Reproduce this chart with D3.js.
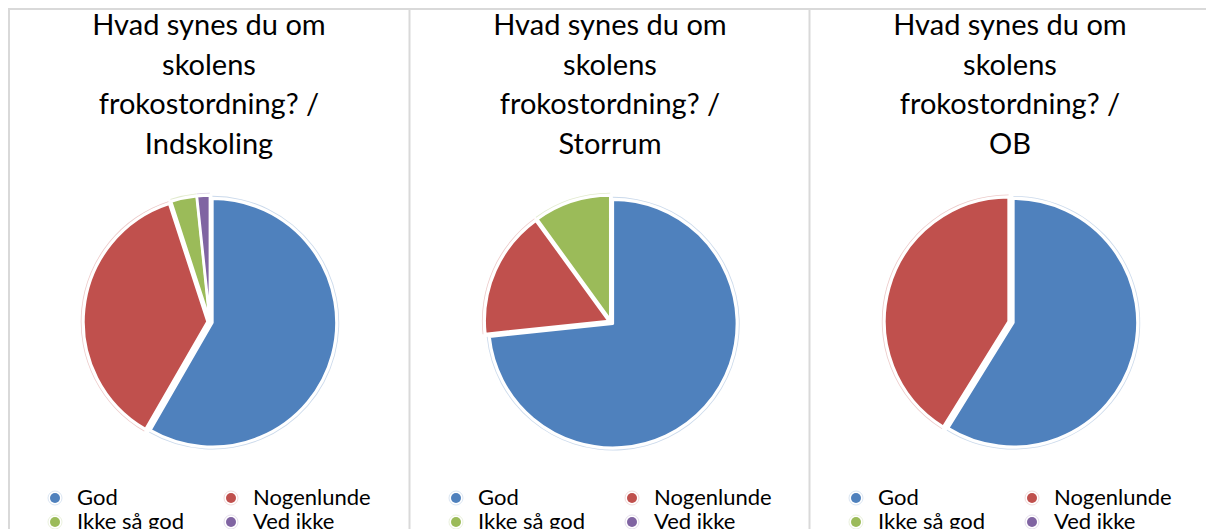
<!DOCTYPE html>
<html>
<head>
<meta charset="utf-8">
<script src="https://cdn.jsdelivr.net/npm/d3@7"></script>
<style>
  body { margin: 0; background: #fff; }
  svg { display: block; font-family: Lato, "Open Sans", sans-serif; }
</style>
</head>
<body>
<div id="chart"></div>
<script>
// Answer categories (legend order = slice order, clockwise from 12 o'clock)
const categories = ["God", "Nogenlunde", "Ikke så god", "Ved ikke"];
const colors = ["#4f81bd", "#c0504d", "#9bbb59", "#8064a2"];

// Respondent counts per group
const groups = ["Indskoling", "Storrum", "OB"];
const indskoling = [35, 22, 2, 1];
const storrum = [22, 5, 3, 0];
const ob = [10, 7, 0, 0];
const seriesValues = [indskoling, storrum, ob];

const titleLines = ["Hvad synes du om", "skolens", "frokostordning? /"];

const width = 1206;
const height = 529;
const panelLeft = [9, 410, 810];
const radius = 124;
const pieY = 322;
const explode = 2.5;

const svg = d3.select("#chart").append("svg")
  .attr("width", width)
  .attr("height", height);

const color = d3.scaleOrdinal().domain(categories).range(colors);

// panel frame lines
const frame = svg.append("g").attr("stroke", "#d9d9d9").attr("stroke-width", 2);
frame.append("line").attr("x1", 8).attr("x2", width).attr("y1", 9).attr("y2", 9);
panelLeft.forEach((x, i) => {
  frame.append("line").attr("x1", i === 0 ? x : x - 0.5).attr("x2", i === 0 ? x : x - 0.5)
    .attr("y1", 9).attr("y2", height);
});

const pie = d3.pie().sort(null).value(d => d.value);
const arc = d3.arc().innerRadius(0).outerRadius(radius);
const halo = d3.arc().innerRadius(radius + 2).outerRadius(radius + 2.8);

groups.forEach((group, gi) => {
  const x0 = panelLeft[gi];
  const cx = x0 + 201;
  const g = svg.append("g");

  // title
  const lines = titleLines.concat([group]);
  g.append("text")
    .attr("text-anchor", "middle")
    .attr("font-size", "29px")
    .attr("fill", "#000")
    .selectAll("tspan")
    .data(lines)
    .enter()
    .append("tspan")
    .attr("x", cx - 1)
    .attr("y", (d, i) => 35 + i * 39.5)
    .text(d => d);

  // pie
  const data = categories.map((c, i) => ({ category: c, value: seriesValues[gi][i] }));
  const arcs = pie(data).filter(d => d.data.value > 0);

  const slices = g.append("g").attr("transform", `translate(${cx},${pieY})`)
    .selectAll("g.slice")
    .data(arcs)
    .enter()
    .append("g")
    .attr("class", "slice")
    .attr("transform", d => {
      const a = (d.startAngle + d.endAngle) / 2;
      return `translate(${Math.sin(a) * explode},${-Math.cos(a) * explode})`;
    });

  slices.append("path")
    .attr("d", halo)
    .attr("fill", d => color(d.data.category))
    .attr("opacity", 0.3);

  slices.append("path")
    .attr("d", arc)
    .attr("fill", d => color(d.data.category))
    .attr("stroke", "#fff")
    .attr("stroke-width", 2.5)
    .attr("stroke-linejoin", "round");

  // legend
  const legend = g.append("g")
    .selectAll("g.item")
    .data(categories)
    .enter()
    .append("g")
    .attr("class", "item")
    .attr("transform", (d, i) => `translate(${x0 + 46 + (i % 2) * 176},${498 + Math.floor(i / 2) * 24})`);

  legend.append("circle")
    .attr("r", 7)
    .attr("fill", "none")
    .attr("stroke", d => color(d))
    .attr("stroke-opacity", 0.2)
    .attr("stroke-width", 1);

  legend.append("circle")
    .attr("r", 5)
    .attr("fill", d => color(d));

  legend.append("text")
    .attr("x", 22)
    .attr("y", 7)
    .attr("font-size", "22px")
    .attr("fill", "#000")
    .text(d => d);
});
</script>
</body>
</html>
